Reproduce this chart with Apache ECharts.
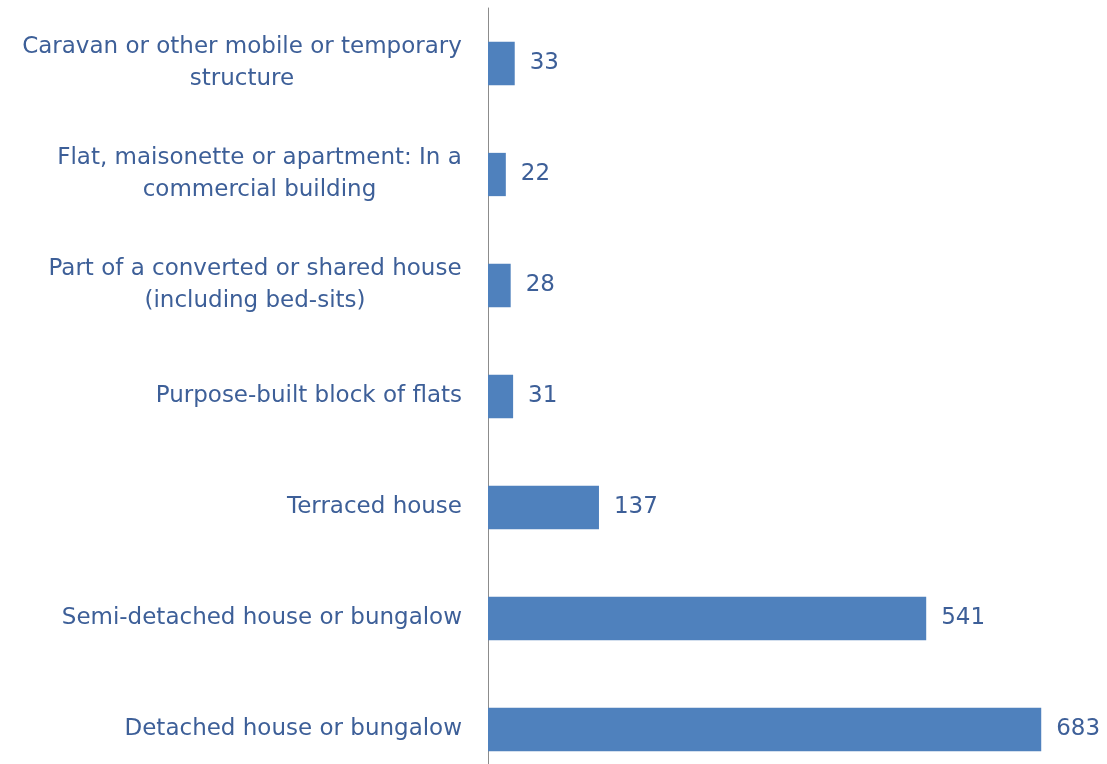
<!DOCTYPE html>
<html>
<head>
<meta charset="utf-8">
<script src="https://cdn.jsdelivr.net/npm/echarts@6/dist/echarts.min.js"></script>
<style>
  html, body { margin: 0; padding: 0; background: #fff; }
  #chart { width: 1107px; height: 764px; }
</style>
</head>
<body>
<div id="chart"></div>
<script>
// dwelling types, top to bottom
var categories = [
  'Caravan or other mobile or temporary\nstructure',
  'Flat, maisonette or apartment: In a\ncommercial building',
  'Part of a converted or shared house\n(including bed-sits)',
  'Purpose-built block of flats',
  'Terraced house',
  'Semi-detached house or bungalow',
  'Detached house or bungalow'
];
var counts = [33, 22, 28, 31, 137, 541, 683];

var textColor = '#3d5f98';
var fontFamily = '"DejaVu Sans", sans-serif';
var fontSize = 23;

// wrapped labels: lines centred on each other, block right-aligned to the axis
var ctx = document.createElement('canvas').getContext('2d');
ctx.font = fontSize + 'px ' + fontFamily;
var rich = {};
categories.forEach(function (c, i) {
  var w = 0;
  c.split('\n').forEach(function (l) { w = Math.max(w, ctx.measureText(l).width); });
  rich['c' + i] = {
    width: Math.ceil(w),
    align: 'center',
    color: textColor,
    fontFamily: fontFamily,
    fontSize: fontSize,
    lineHeight: 32
  };
});

var chart = echarts.init(document.getElementById('chart'));
chart.setOption({
  animation: false,
  grid: {
    left: 488,
    top: 8,
    width: 567,
    height: 777,
    outerBoundsMode: 'none'
  },
  xAxis: {
    type: 'value',
    min: 0,
    max: 700,
    show: false
  },
  yAxis: {
    type: 'category',
    inverse: true,
    data: categories,
    axisLine: { show: true, lineStyle: { color: '#8c8c8c', width: 1 } },
    axisTick: { show: false },
    axisLabel: {
      margin: 26,
      color: textColor,
      fontFamily: fontFamily,
      fontSize: fontSize,
      lineHeight: 32,
      formatter: function (val, idx) {
        var lines = val.split('\n');
        if (lines.length === 1) return val;
        return lines.map(function (l) { return '{c' + idx + '|' + l + '}'; }).join('\n');
      },
      rich: rich
    }
  },
  series: [{
    type: 'bar',
    data: counts,
    barCategoryGap: '61%',
    itemStyle: { color: '#4f81bd' },
    label: {
      show: true,
      position: 'right',
      distance: 15,
      color: textColor,
      fontFamily: fontFamily,
      fontSize: fontSize
    }
  }]
});
</script>
</body>
</html>
